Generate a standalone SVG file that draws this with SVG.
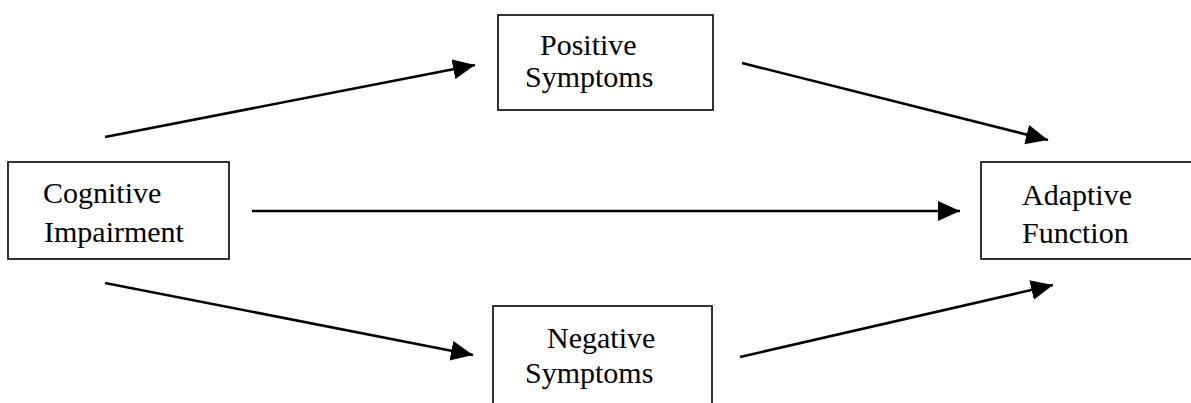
<svg xmlns="http://www.w3.org/2000/svg" width="1191" height="403" viewBox="0 0 1191 403">
<style>
.box{fill:#fff;stroke:#000;stroke-width:1.6}
.lbl{font-family:"Liberation Serif","Times New Roman",serif;font-size:30px;fill:#000}
.edge{stroke:#000;stroke-width:2.6;fill:none;marker-end:url(#ah)}
</style>
<defs>
<marker id="ah" markerUnits="userSpaceOnUse" markerWidth="24" markerHeight="22" refX="22" refY="10" orient="auto">
<path d="M0,0 L22,10 L0,20 z" fill="#000"/>
</marker>
</defs>
<rect width="1191" height="403" fill="#fff"/>
<g id="cognitive">
<rect class="box" x="8" y="162" width="221" height="97"/>
<text class="lbl" x="43" y="203">Cognitive</text>
<text class="lbl" x="44" y="242">Impairment</text>
</g>
<g id="positive">
<rect class="box" x="498" y="15" width="215" height="95"/>
<text class="lbl" x="540" y="55">Positive</text>
<text class="lbl" x="525" y="87">Symptoms</text>
</g>
<g id="negative">
<rect class="box" x="493" y="306" width="219" height="110"/>
<text class="lbl" x="547" y="348">Negative</text>
<text class="lbl" x="525" y="383">Symptoms</text>
</g>
<g id="adaptive">
<rect class="box" x="981" y="162" width="220" height="97"/>
<text class="lbl" x="1022" y="205">Adaptive</text>
<text class="lbl" x="1022" y="243">Function</text>
</g>
<g id="connectors">
<line class="edge" x1="105" y1="137" x2="475" y2="65"/>
<line class="edge" x1="742" y1="63" x2="1048" y2="140"/>
<line class="edge" x1="252" y1="211" x2="960" y2="211"/>
<line class="edge" x1="105" y1="283" x2="473" y2="355"/>
<line class="edge" x1="740" y1="357" x2="1053" y2="285"/>
</g>
</svg>
